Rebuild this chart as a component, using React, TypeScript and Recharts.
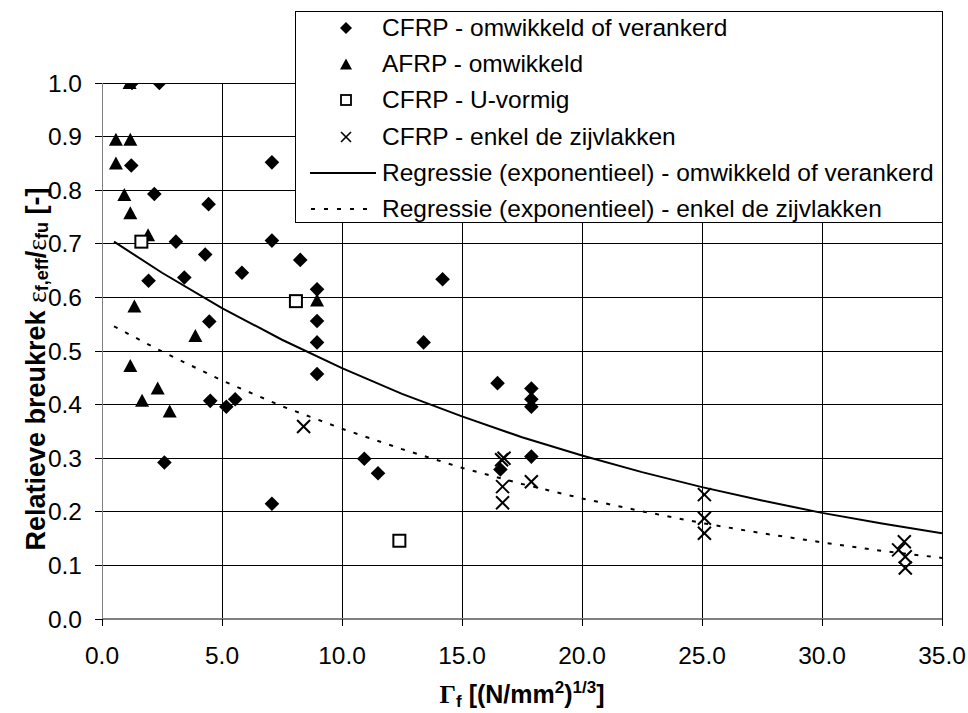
import React from 'react';
import { ScatterChart, Scatter, XAxis, YAxis, CartesianGrid, Legend } from 'recharts';

const FONT = '"Liberation Sans", Arial, sans-serif';
const SERIF = '"Liberation Serif", "Times New Roman", serif';

const xTicks = [0, 5, 10, 15, 20, 25, 30, 35];
const yTicks = [0, 0.1, 0.2, 0.3, 0.4, 0.5, 0.6, 0.7, 0.8, 0.9, 1.0];

// CFRP - omwikkeld of verankerd (diamonds)
const cfrpWrappedX = [1.25, 2.39, 1.22, 7.08, 2.18, 4.44, 3.08, 7.08, 4.30, 8.26, 5.83, 1.94, 3.43, 8.96, 14.19, 4.47, 8.96, 8.96, 13.40, 8.96, 16.48, 17.89, 17.89, 17.89, 4.51, 5.18, 5.55, 10.93, 11.50, 17.89, 16.60, 2.60, 7.08];
const cfrpWrappedY = [1.000, 1.000, 0.846, 0.852, 0.793, 0.774, 0.704, 0.706, 0.680, 0.670, 0.646, 0.631, 0.637, 0.615, 0.634, 0.555, 0.556, 0.516, 0.516, 0.457, 0.440, 0.430, 0.410, 0.396, 0.407, 0.396, 0.410, 0.299, 0.272, 0.303, 0.279, 0.292, 0.215];

// AFRP - omwikkeld (triangles)
const afrpX = [1.15, 0.58, 1.18, 0.58, 0.93, 1.18, 1.92, 1.35, 3.89, 1.18, 2.32, 1.67, 2.82, 8.96];
const afrpY = [1.000, 0.894, 0.894, 0.850, 0.791, 0.757, 0.716, 0.583, 0.528, 0.472, 0.430, 0.407, 0.387, 0.594];

// CFRP - U-vormig (squares)
const uShapeX = [1.64, 8.08, 12.39];
const uShapeY = [0.704, 0.593, 0.146];

// CFRP - enkel de zijvlakken (crosses)
const sidesX = [8.40, 16.65, 16.75, 16.69, 16.69, 17.89, 25.10, 25.10, 25.10, 33.43, 33.19, 33.47, 33.47];
const sidesY = [0.359, 0.297, 0.300, 0.247, 0.217, 0.256, 0.232, 0.188, 0.160, 0.144, 0.129, 0.116, 0.095];

// Regression curves
const regX = [0.5, 2.5, 5, 7.5, 10, 12.5, 15, 17.5, 20, 22.5, 25, 27.5, 30, 32.5, 35];
const regWrappedY = [0.704, 0.646, 0.580, 0.521, 0.468, 0.420, 0.378, 0.339, 0.305, 0.274, 0.246, 0.221, 0.198, 0.178, 0.160];
const regSidesY = [0.546, 0.499, 0.445, 0.397, 0.355, 0.317, 0.282, 0.252, 0.225, 0.201, 0.179, 0.160, 0.143, 0.127, 0.114];

const legendLabels = [
  'CFRP - omwikkeld of verankerd',
  'AFRP - omwikkeld',
  'CFRP - U-vormig',
  'CFRP - enkel de zijvlakken',
  'Regressie (exponentieel) - omwikkeld of verankerd',
  'Regressie (exponentieel) - enkel de zijvlakken',
];

const zip = (xs: number[], ys: number[]) => xs.map((x, i) => ({ x, y: ys[i] }));

const diamondData = zip(cfrpWrappedX, cfrpWrappedY);
const triangleData = zip(afrpX, afrpY);
const squareData = zip(uShapeX, uShapeY);
const crossData = zip(sidesX, sidesY);
const regWrappedData = zip(regX, regWrappedY);
const regSidesData = zip(regX, regSidesY);

const Diamond = (p: any) => {
  const { cx, cy } = p;
  const r = 7.3;
  return <path d={`M${cx},${cy - r}L${cx + r},${cy}L${cx},${cy + r}L${cx - r},${cy}Z`} fill="#000" />;
};
const Triangle = (p: any) => {
  const { cx, cy } = p;
  return <path d={`M${cx},${cy - 7}L${cx + 7},${cy + 6}L${cx - 7},${cy + 6}Z`} fill="#000" />;
};
const Square = (p: any) => {
  const { cx, cy } = p;
  return <rect x={cx - 6} y={cy - 6} width={12} height={12} fill="#fff" stroke="#000" strokeWidth={2} />;
};
const Cross = (p: any) => {
  const { cx, cy } = p;
  const r = 6.5;
  return (
    <g stroke="#000" strokeWidth={2}>
      <line x1={cx - r} y1={cy - r} x2={cx + r} y2={cy + r} />
      <line x1={cx - r} y1={cy + r} x2={cx + r} y2={cy - r} />
    </g>
  );
};
const NoShape = () => <g />;

const legendSymbol = (i: number) => {
  if (i === 0) return <svg width={14} height={14} style={{ position: 'absolute', left: 43, top: -7 }}><path d="M7,1L13,7L7,13L1,7Z" fill="#000" /></svg>;
  if (i === 1) return <svg width={14} height={14} style={{ position: 'absolute', left: 43, top: -7 }}><path d="M7,1.5L13,12.5L1,12.5Z" fill="#000" /></svg>;
  if (i === 2) return <svg width={14} height={14} style={{ position: 'absolute', left: 43, top: -7 }}><rect x={2} y={2} width={10} height={10} fill="#fff" stroke="#000" strokeWidth={1.8} /></svg>;
  if (i === 3) return <svg width={14} height={14} style={{ position: 'absolute', left: 43, top: -7 }}><g stroke="#000" strokeWidth={1.6}><line x1={2} y1={2} x2={12} y2={12} /><line x1={2} y1={12} x2={12} y2={2} /></g></svg>;
  if (i === 4) return <svg width={70} height={6} style={{ position: 'absolute', left: 14, top: -3 }}><line x1={0} y1={3} x2={66} y2={3} stroke="#000" strokeWidth={2} /></svg>;
  return <svg width={70} height={6} style={{ position: 'absolute', left: 14, top: -3 }}><line x1={1} y1={3} x2={66} y2={3} stroke="#000" strokeWidth={2} strokeDasharray="4 9" /></svg>;
};

const renderLegend = () => (
  <div style={{ position: 'relative', width: 648, height: 212, boxSizing: 'border-box', border: '1px solid #000', background: '#fff', fontFamily: FONT, fontSize: 24.5, color: '#000' }}>
    {legendLabels.map((label, i) => (
      <div key={label} style={{ position: 'absolute', left: 0, top: 16 + 36.2 * i, height: 0, width: '100%' }}>
        {legendSymbol(i)}
        <span style={{ position: 'absolute', left: 86, top: -15, lineHeight: '30px', whiteSpace: 'nowrap' }}>{label}</span>
      </div>
    ))}
  </div>
);

const YTitle = (props: any) => {
  const vb = props.viewBox || { x: 0, y: 83, width: 102, height: 536 };
  const cx = 36;
  const cy = vb.y + vb.height / 2 + 18;
  return (
    <text x={cx} y={cy} transform={`rotate(-90 ${cx} ${cy})`} textAnchor="middle" dominantBaseline="central" fontFamily={FONT} fontWeight="bold" fontSize={27} fill="#000">
      <tspan>Relatieve breukrek </tspan>
      <tspan fontFamily={SERIF} fontWeight="normal" fontSize={28}>ε</tspan>
      <tspan fontSize={18} dy={6}>f,eff</tspan>
      <tspan dy={-6}>/</tspan>
      <tspan fontFamily={SERIF} fontWeight="normal" fontSize={28}>ε</tspan>
      <tspan fontSize={18} dy={6}>fu</tspan>
      <tspan dy={-6}> [-]</tspan>
    </text>
  );
};

const XTitle = (props: any) => {
  const vb = props.viewBox || { x: 102, y: 619, width: 840, height: 94 };
  const cx = vb.x + vb.width / 2;
  const by = vb.y + 84;
  return (
    <text x={cx} y={by} textAnchor="middle" fontFamily={FONT} fontWeight="bold" fontSize={25} fill="#000">
      <tspan fontFamily={SERIF} fontSize={26}>Γ</tspan>
      <tspan fontSize={17} dy={4}>f</tspan>
      <tspan dy={-4}> [(N/mm</tspan>
      <tspan fontSize={17} dy={-10}>2</tspan>
      <tspan dy={10}>)</tspan>
      <tspan fontSize={17} dy={-10}>1/3</tspan>
      <tspan dy={10}>]</tspan>
    </text>
  );
};

const tickStyle = { fontFamily: FONT, fontSize: 24.5, fill: '#000' };

const css = `.recharts-cartesian-grid line, .recharts-cartesian-axis-line, .recharts-cartesian-axis-tick-line { shape-rendering: crispEdges; }`;

export default function App() {
  return (
    <div style={{ position: 'absolute', left: 0, top: 0, width: 968, height: 713, background: '#fff' }}>
      <style>{css}</style>
      <ScatterChart width={968} height={713} margin={{ top: 83, right: 26, bottom: 0, left: 0 }}>
        <CartesianGrid stroke="#000" strokeWidth={1} />
        <XAxis
          type="number"
          dataKey="x"
          domain={[0, 35]}
          ticks={xTicks}
          tickFormatter={(v: number) => v.toFixed(1)}
          height={94}
          tickSize={7}
          tickMargin={21}
          tick={tickStyle}
          axisLine={{ stroke: '#808080', strokeWidth: 2 }}
          tickLine={{ stroke: '#000' }}
          interval={0}
          allowDataOverflow
          label={{ content: XTitle } as any}
        />
        <YAxis
          type="number"
          dataKey="y"
          domain={[0, 1]}
          ticks={yTicks}
          tickFormatter={(v: number) => v.toFixed(1)}
          width={102}
          tickSize={7}
          tickMargin={13}
          tick={tickStyle}
          axisLine={{ stroke: '#808080', strokeWidth: 1 }}
          tickLine={{ stroke: '#000' }}
          interval={0}
          allowDataOverflow
          label={{ content: YTitle } as any}
        />
        <Legend
          layout="vertical"
          align="center"
          verticalAlign="middle"
          content={renderLegend}
          wrapperStyle={{ left: 295, top: 11, width: 648, height: 212 }}
        />
        <Scatter data={regWrappedData} line={{ stroke: '#000', strokeWidth: 2 }} lineType="joint" shape={NoShape} isAnimationActive={false} />
        <Scatter data={regSidesData} line={{ stroke: '#000', strokeWidth: 2, strokeDasharray: '4 8.5' }} lineType="joint" shape={NoShape} isAnimationActive={false} />
        <Scatter data={diamondData} shape={Diamond} isAnimationActive={false} />
        <Scatter data={triangleData} shape={Triangle} isAnimationActive={false} />
        <Scatter data={squareData} shape={Square} isAnimationActive={false} />
        <Scatter data={crossData} shape={Cross} isAnimationActive={false} />
      </ScatterChart>
    </div>
  );
}
